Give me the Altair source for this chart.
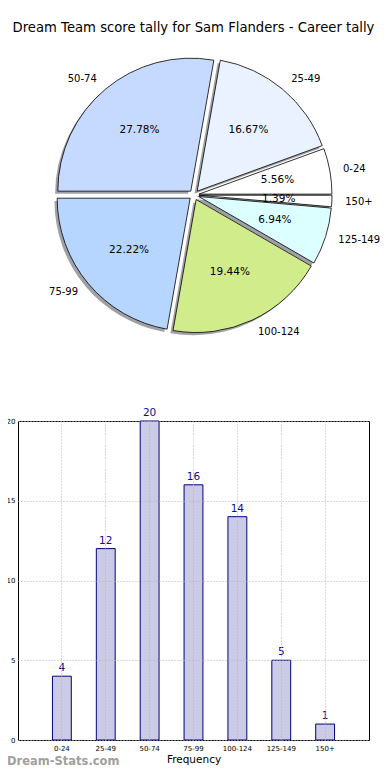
import math
import altair as alt
import pandas as pd

# ---- data ----
categories = ["0-24", "25-49", "50-74", "75-99", "100-124", "125-149", "150+"]
tally = [4, 12, 20, 16, 14, 5, 1]
slice_colors = ["#ffffff", "#ebf2ff", "#c6d9ff", "#b7d6ff", "#d1ec8b", "#dcffff", "#ffffff"]

df = pd.DataFrame({
    "cat": categories,
    "n": tally,
    "idx": list(range(len(categories))),
    "col": slice_colors,
})

# ---- layout constants (pixels, pie panel) ----
CX, CY = 176.0, 144.0
R = 133
EXP = 5.0
SH = 2.7
FONT = "DejaVu Sans"

base = alt.Chart(df).transform_joinaggregate(
    total="sum(n)"
).transform_window(
    cum="sum(n)", sort=[alt.SortField("idx", order="descending")]
).transform_calculate(
    f1="datum.cum / datum.total",
    f0="(datum.cum - datum.n) / datum.total",
).transform_calculate(
    mid="PI / 2 + PI * (datum.f0 + datum.f1)",
).transform_calculate(
    cxs=f"{CX} + {EXP} * sin(datum.mid)",
    cys=f"{CY} - {EXP} * cos(datum.mid)",
).transform_calculate(
    sx=f"datum.cxs - {SH}",
    sy=f"datum.cys + {SH}",
    lx=f"datum.cxs + {1.1 * R} * sin(datum.mid)",
    ly=f"datum.cys - {1.1 * R} * cos(datum.mid)",
    px=f"datum.cxs + {0.6 * R} * sin(datum.mid)",
    py=f"datum.cys - {0.6 * R} * cos(datum.mid)",
    pct="format(datum.n / datum.total * 100, '.2f') + '%'",
)

theta_scale = alt.Scale(domain=[0, 1], range=[math.pi / 2, math.pi / 2 + 2 * math.pi])

shadow = base.mark_arc(outerRadius=R, fill="#8e9096", opacity=0.85).encode(
    theta=alt.Theta("f0:Q", scale=theta_scale),
    theta2="f1:Q",
    x=alt.X("sx:Q", scale=None),
    y=alt.Y("sy:Q", scale=None),
)

slices = base.mark_arc(outerRadius=R, stroke="black", strokeWidth=0.8).encode(
    theta=alt.Theta("f0:Q", scale=theta_scale),
    theta2="f1:Q",
    x=alt.X("cxs:Q", scale=None),
    y=alt.Y("cys:Q", scale=None),
    fill=alt.Fill("col:N", scale=None),
)

lab_right = base.transform_filter("sin(datum.mid) > 0").mark_text(
    align="left", baseline="middle", font=FONT, fontSize=10, color="black"
).encode(x=alt.X("lx:Q", scale=None), y=alt.Y("ly:Q", scale=None), text="cat:N")

lab_left = base.transform_filter("sin(datum.mid) <= 0").mark_text(
    align="right", baseline="middle", font=FONT, fontSize=10, color="black"
).encode(x=alt.X("lx:Q", scale=None), y=alt.Y("ly:Q", scale=None), text="cat:N")

pct_text = base.mark_text(
    align="center", baseline="middle", font=FONT, fontSize=10.5, color="black"
).encode(x=alt.X("px:Q", scale=None), y=alt.Y("py:Q", scale=None), text="pct:N")

pie = alt.layer(shadow, slices, lab_right, lab_left, pct_text).properties(
    width=351,
    height=350,
    view=alt.ViewBackground(stroke="transparent", strokeWidth=0),
    title=alt.TitleParams(
        "Dream Team score tally for Sam Flanders - Career tally",
        font=FONT, fontSize=13.2, fontWeight="normal", color="black",
        anchor="middle", offset=16,
    ),
)

# ---- bar chart ----
x_enc = alt.X(
    "cat:N",
    sort=categories,
    scale=alt.Scale(paddingInner=0.57, paddingOuter=0.785),
    axis=alt.Axis(
        title="Frequency", titleFont=FONT, titleFontSize=10.5, titleFontWeight="normal",
        titleColor="black", titlePadding=3,
        labelFont=FONT, labelFontSize=7, labelColor="black", labelAngle=0, labelPadding=4,
        ticks=False, domain=False, grid=True, bandPosition=0.5,
        gridColor="#b4b4b4", gridDash=[1, 2], gridWidth=1, zindex=1,
    ),
)
y_enc = alt.Y(
    "n:Q",
    scale=alt.Scale(domain=[0, 20], nice=False),
    axis=alt.Axis(
        title=None, values=[0, 5, 10, 15, 20],
        labelFont=FONT, labelFontSize=7, labelColor="black", labelPadding=3,
        ticks=False, domain=False, grid=True,
        gridColor="#b4b4b4", gridDash=[1, 2], gridWidth=1, zindex=1,
        minExtent=11, maxExtent=11,
    ),
)

bars = alt.Chart(df).mark_bar(fill="#cbcbe5", stroke="#000080", strokeWidth=1).encode(
    x=x_enc, y=y_enc
)
bar_labels = alt.Chart(df).mark_text(
    baseline="bottom", dy=-3, font=FONT, fontSize=10.5, color="#10108a"
).encode(x=alt.X("cat:N", sort=categories), y="n:Q", text="n:Q")

watermark = alt.Chart(pd.DataFrame({"t": ["Dream-Stats.com"]})).mark_text(
    align="left", baseline="alphabetic", font=FONT, fontSize=11.5, fontWeight="bold",
    color="#a0a0a0",
).encode(x=alt.value(-11), y=alt.value(344), text="t:N")

bar_chart = alt.layer(bars, bar_labels, watermark).properties(
    width=351,
    height=319,
    view=alt.ViewBackground(stroke="black", strokeWidth=1),
)

chart = alt.vconcat(pie, bar_chart, spacing=20, bounds="flush").properties(
    padding={"top": 12, "left": -3, "right": 0, "bottom": 0}
).configure_view(strokeWidth=0).configure(background="white")

chart.save("out.html", embed_options={"renderer": "svg", "actions": False})
